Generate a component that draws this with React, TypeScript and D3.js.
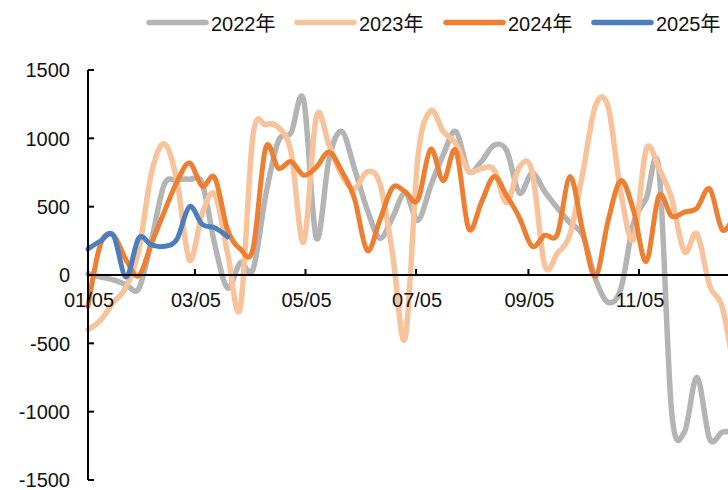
import React from "react";
import * as d3 from "d3";

const START = new Date(2023, 0, 5);
const END = new Date(2023, 11, 31);

const seriesNames = ["2022年", "2023年", "2024年", "2025年"];
const seriesColors = ["#b4b4b4", "#f8c39b", "#ee7e32", "#4a7ebf"];

const values2022 = [10, -15, -35, -70, -100, 250, 660, 695, 700, 670, 220, -95, 90, 40, 580, 980, 1040, 1280, 270, 850, 1050, 780, 480, 270, 420, 600, 400, 650, 880, 1050, 760, 830, 950, 910, 600, 745, 610, 490, 380, 290, -30, -200, -100, 380, 560, 770, -1000, -1150, -750, -1200, -1150, -1150];
const values2023 = [-400, -330, -200, -90, 180, 745, 960, 695, 110, 450, 590, 160, -240, 1020, 1100, 1080, 900, 240, 1160, 950, 730, 630, 755, 670, 160, -460, 860, 1200, 1050, 960, 760, 780, 770, 530, 790, 760, 70, 160, 300, 750, 1240, 1230, 600, 260, 920, 780, 560, 170, 300, -80, -240, -750];
const values2024 = [-230, 230, 290, 110, -5, 230, 460, 680, 820, 650, 710, 330, 190, 190, 930, 780, 830, 730, 790, 900, 760, 560, 180, 400, 640, 610, 550, 920, 690, 910, 340, 530, 720, 580, 420, 210, 290, 300, 720, 320, -10, 400, 690, 470, 100, 580, 430, 460, 490, 630, 330, 450];
const values2025 = [190, 250, 290, -15, 270, 220, 210, 260, 500, 370, 345, 280];

const yTicks = [-1500, -1000, -500, 0, 500, 1000, 1500];
const xTickLabels = ["01/05", "03/05", "05/05", "07/05", "09/05", "11/05"];

const allSeries = [values2022, values2023, values2024, values2025];

export default function App() {
  const W = 728;
  const H = 490;
  const x = d3.scaleTime().domain([START, END]).range([88, 88 + 360 * 1.8125]);
  const y = d3.scaleLinear().domain([-1500, 1500]).range([480, 70]);
  const weekDate = (i: number) => d3.timeDay.offset(START, 7 * i);
  const line = d3
    .line<number>()
    .x((_, i) => x(weekDate(i)))
    .y((d) => y(d))
    .curve(d3.curveCardinal.tension(0));

  const tickDates = xTickLabels.map((s) => {
    const [m, d] = s.split("/").map(Number);
    return new Date(2023, m - 1, d);
  });

  const font = "'Liberation Sans', Arial, 'Noto Sans CJK SC', sans-serif";
  const legendX = [149, 297, 446, 594];

  return (
    <svg
      width={W}
      height={H}
      style={{ position: "absolute", left: 0, top: 0, display: "block", background: "#fff" }}
      fontFamily={font}
    >
      {allSeries.map((vals, si) => (
        <path
          key={si}
          d={line(vals) || ""}
          fill="none"
          stroke={seriesColors[si]}
          strokeWidth={si < 2 ? 5.5 : 5}
          strokeLinecap="round"
          strokeLinejoin="round"
        />
      ))}

      <line x1={88} x2={88} y1={y(1500)} y2={y(-1500)} stroke="#000" strokeWidth={2} />
      {yTicks.map((t) => (
        <g key={t}>
          <line x1={88} x2={94} y1={y(t)} y2={y(t)} stroke="#000" strokeWidth={2} />
          <text x={70} y={y(t)} dy="0.36em" textAnchor="end" fontSize={20} fill="#111">
            {t}
          </text>
        </g>
      ))}

      <line x1={88} x2={W} y1={y(0)} y2={y(0)} stroke="#000" strokeWidth={2} />
      {tickDates.map((d, i) => (
        <g key={i}>
          <line x1={x(d)} x2={x(d)} y1={y(0)} y2={y(0) - 6} stroke="#000" strokeWidth={2} />
          <text x={x(d) + 1} y={307} textAnchor="middle" fontSize={20} fill="#111">
            {xTickLabels[i]}
          </text>
        </g>
      ))}

      {seriesNames.map((n, i) => (
        <g key={n}>
          <line
            x1={legendX[i]}
            x2={legendX[i] + 57}
            y1={22.5}
            y2={22.5}
            stroke={seriesColors[i]}
            strokeWidth={5.5}
            strokeLinecap="round"
          />
          <text x={legendX[i] + 62} y={30.5} fontSize={20} fill="#111">
            {n}
          </text>
        </g>
      ))}
    </svg>
  );
}
